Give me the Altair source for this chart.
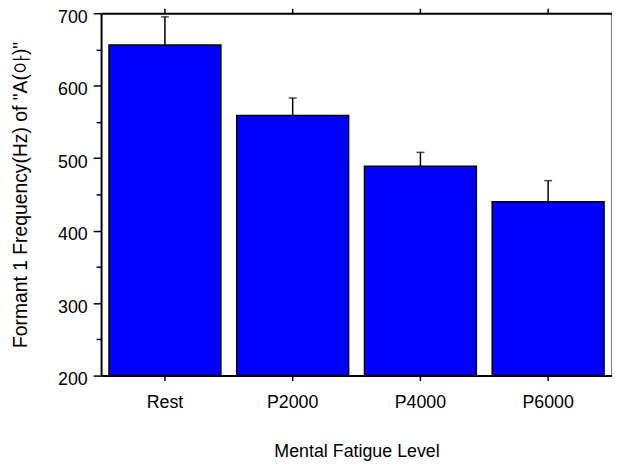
import altair as alt
import pandas as pd

categories = ["Rest", "P2000", "P4000", "P6000"]
means = [656, 559, 489, 440]
upper = [695, 583, 508, 469]

df = pd.DataFrame({"level": categories, "mean": means, "upper": upper})

FONT = "Liberation Sans"
xscale = alt.Scale(domain=categories, paddingInner=0.124, paddingOuter=0.062)
yscale = alt.Scale(domain=[200, 700], zero=False, nice=False)
yvals = list(range(200, 701, 50))

base = alt.Chart(df)

bars = base.mark_bar(color="#0000FF", stroke="black", strokeWidth=1.5).encode(
    x=alt.X("level:N", scale=xscale, sort=categories,
            axis=alt.Axis(title="Mental Fatigue Level", orient="bottom", labelAngle=0,
                          tickSize=5, labelPadding=13, titlePadding=32)),
    y=alt.Y("mean:Q", scale=yscale,
            axis=alt.Axis(title='Formant 1 Frequency(Hz) of "A(아)"', values=yvals,
                          labelExpr="datum.value % 100 === 0 ? datum.label : ''",
                          tickSize={"condition": {"test": "datum.value % 100 === 0", "value": 8}, "value": 5},
                          labelOffset=4, labelPadding=6, titlePadding=27, titleFontSize=19.5)),
    y2=alt.datum(200),
)

err = base.mark_rule(color="black", strokeWidth=1.5).encode(
    x=alt.X("level:N", scale=xscale, sort=categories,
            axis=alt.Axis(title=None, orient="top", labels=False, tickSize=5)),
    y=alt.Y("mean:Q", scale=yscale,
            axis=alt.Axis(title=None, orient="right", values=yvals, labels=False, tickSize=4)),
    y2="upper:Q",
)

cap = base.mark_tick(color="black", size=8, thickness=1.5, orient="horizontal").encode(
    x=alt.X("level:N", scale=xscale, sort=categories, axis=None),
    y=alt.Y("upper:Q", scale=yscale, axis=None),
)

chart = alt.layer(bars, err, cap).resolve_axis(x="independent", y="independent").properties(
    width=516, height=366,
    autosize=alt.AutoSizeParams(type="none"),
    padding={"left": 94, "top": 3, "right": 0, "bottom": 86},
).configure_view(stroke=None).configure_axis(
    domainColor="black", domainWidth=2, tickColor="black", tickWidth=1.5,
    labelFont=FONT, titleFont=FONT, labelFontSize=18, titleFontSize=18,
    labelColor="black", titleColor="black", titleFontWeight="normal", grid=False,
)

chart.save("out.html", embed_options={"renderer": "svg", "actions": False})
